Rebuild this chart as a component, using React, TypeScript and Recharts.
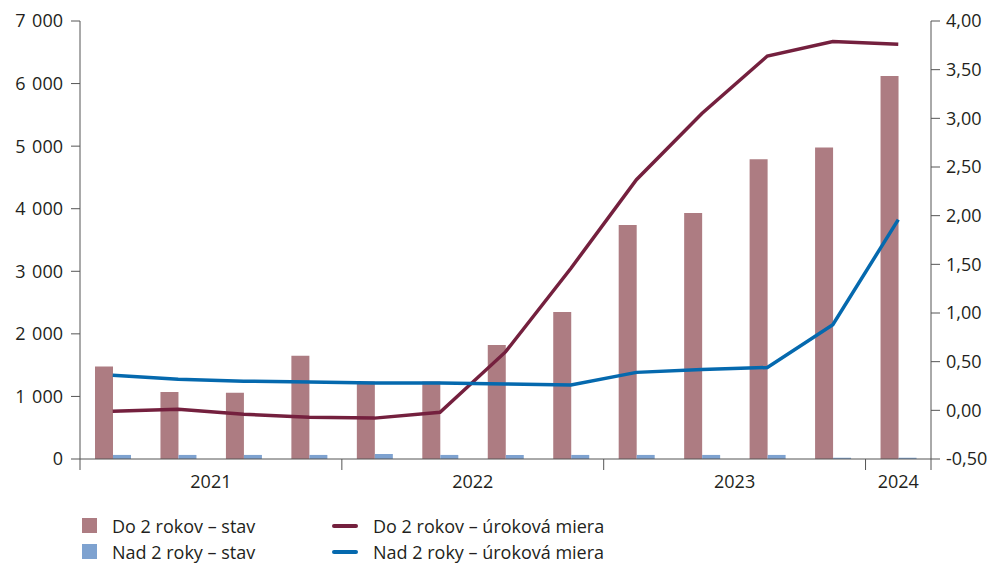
import React from 'react';
import { ComposedChart, Bar, Line, XAxis, YAxis } from 'recharts';

const categories = ['2021Q1', '2021Q2', '2021Q3', '2021Q4', '2022Q1', '2022Q2', '2022Q3', '2022Q4', '2023Q1', '2023Q2', '2023Q3', '2023Q4', '2024Q1'];
const do2Stav = [1480, 1070, 1060, 1650, 1240, 1240, 1820, 2350, 3740, 3930, 4790, 4980, 6120];
const nad2Stav = [65, 65, 65, 65, 80, 65, 65, 65, 65, 65, 65, 20, 20];
const do2Rate = [-0.01, 0.01, -0.04, -0.07, -0.08, -0.02, 0.6, 1.46, 2.37, 3.05, 3.64, 3.79, 3.76];
const nad2Rate = [0.36, 0.32, 0.3, 0.29, 0.28, 0.28, 0.27, 0.26, 0.39, 0.42, 0.44, 0.88, 1.96];
const years = ['2021', '2022', '2023', '2024'];
const yearStart = [0, 4, 8, 12];
const yearEnd = [4, 8, 12, 13];
const leftTicks = [0, 1000, 2000, 3000, 4000, 5000, 6000, 7000];
const rightTicks = [-0.5, 0, 0.5, 1, 1.5, 2, 2.5, 3, 3.5, 4];

const C_DO_BAR = '#ad7c82';
const C_NAD_BAR = '#7ea2d0';
const C_DO_LINE = '#74203e';
const C_NAD_LINE = '#0569ae';
const TXT = '#231f20';
const AX = '#555';
const FONT = '"Open Sans", "Noto Sans", sans-serif';
const FS = 18;

const data = categories.map((c, i) => ({
  cat: c,
  do2Stav: do2Stav[i],
  nad2Stav: nad2Stav[i],
  do2Rate: do2Rate[i],
  nad2Rate: nad2Rate[i],
}));

const CatTick = (props: any) => {
  const { x, y, payload } = props;
  const i: number = payload.index;
  const half: number = payload.offset || 0;
  const els: any[] = [];
  if (yearStart.indexOf(i) >= 0) {
    els.push(<line key="s" x1={x - half} x2={x - half} y1={y} y2={y + 11} stroke={AX} strokeWidth={1} />);
  }
  if (i === categories.length - 1) {
    els.push(<line key="e" x1={x + half} x2={x + half} y1={y} y2={y + 11} stroke={AX} strokeWidth={1} />);
  }
  years.forEach((yr, k) => {
    const center = (yearStart[k] + yearEnd[k]) / 2 - 0.5;
    if (Math.floor(center) === i) {
      const lx = x + (center - i) * 2 * half;
      els.push(
        <text key={'t' + k} x={lx} y={y + 29} textAnchor="middle" fill={TXT} fontSize={FS} fontFamily={FONT}>
          {yr}
        </text>
      );
    }
  });
  return <g>{els}</g>;
};

const fmtLeft = (v: number) => {
  const s = String(v);
  return s.length > 3 ? s.slice(0, s.length - 3) + '\u00a0\u200a' + s.slice(-3) : s;
};
const fmtRight = (v: number) => v.toFixed(2).replace('.', ',');

const legendItems = [
  { label: 'Do 2 rokov – stav', color: C_DO_BAR, type: 'rect', x: 82, y: 526 },
  { label: 'Nad 2 roky – stav', color: C_NAD_BAR, type: 'rect', x: 82, y: 552 },
  { label: 'Do 2 rokov – úroková miera', color: C_DO_LINE, type: 'line', x: 332, y: 526 },
  { label: 'Nad 2 roky – úroková miera', color: C_NAD_LINE, type: 'line', x: 332, y: 552 },
];

export default function App() {
  return (
    <div style={{ position: 'absolute', left: 0, top: 0, width: 998, height: 563, background: '#fff' }}>
      <ComposedChart
        width={998}
        height={563}
        data={data}
        margin={{ top: 21, right: 0, left: 0, bottom: 74 }}
        barGap={0}
      >
        <XAxis
          xAxisId="cat"
          dataKey="cat"
          interval={0}
          tick={<CatTick />}
          tickLine={false}
          tickSize={0}
          tickMargin={0}
          height={30}
          axisLine={{ stroke: AX }}
        />
        <YAxis
          yAxisId="left"
          domain={[0, 7000]}
          ticks={leftTicks}
          interval={0}
          width={80}
          tickFormatter={fmtLeft}
          tickSize={9}
          tickMargin={8}
          axisLine={{ stroke: AX }}
          tickLine={{ stroke: AX }}
          tick={{ fill: TXT, fontSize: FS, fontFamily: FONT }}
        />
        <YAxis
          yAxisId="right"
          orientation="right"
          domain={[-0.5, 4]}
          ticks={rightTicks}
          interval={0}
          width={67}
          tickFormatter={fmtRight}
          tickSize={9}
          tickMargin={6}
          axisLine={{ stroke: AX }}
          tickLine={{ stroke: AX }}
          tick={{ fill: TXT, fontSize: FS, fontFamily: FONT, textAnchor: 'start' }}
        />
        <Bar xAxisId="cat" yAxisId="left" dataKey="do2Stav" name="Do 2 rokov – stav" fill={C_DO_BAR} barSize={18} isAnimationActive={false} />
        <Bar xAxisId="cat" yAxisId="left" dataKey="nad2Stav" name="Nad 2 roky – stav" fill={C_NAD_BAR} barSize={18} isAnimationActive={false} />
        <Line xAxisId="cat" yAxisId="right" type="linear" dataKey="do2Rate" name="Do 2 rokov – úroková miera" stroke={C_DO_LINE} strokeWidth={3.5} dot={false} isAnimationActive={false} />
        <Line xAxisId="cat" yAxisId="right" type="linear" dataKey="nad2Rate" name="Nad 2 roky – úroková miera" stroke={C_NAD_LINE} strokeWidth={3.5} dot={false} isAnimationActive={false} />
      </ComposedChart>
      {legendItems.map((it) => (
        <div key={it.label}>
          {it.type === 'rect' ? (
            <div style={{ position: 'absolute', left: it.x, top: it.y - 8, width: 15, height: 15, background: it.color }} />
          ) : (
            <div style={{ position: 'absolute', left: it.x, top: it.y - 2, width: 26, height: 4, borderRadius: 2, background: it.color }} />
          )}
          <div
            style={{
              position: 'absolute',
              left: it.type === 'rect' ? it.x + 30 : it.x + 41,
              top: it.y - 13,
              fontSize: FS,
              lineHeight: '26px',
              color: TXT,
              fontFamily: FONT,
              whiteSpace: 'nowrap',
            }}
          >
            {it.label}
          </div>
        </div>
      ))}
    </div>
  );
}
